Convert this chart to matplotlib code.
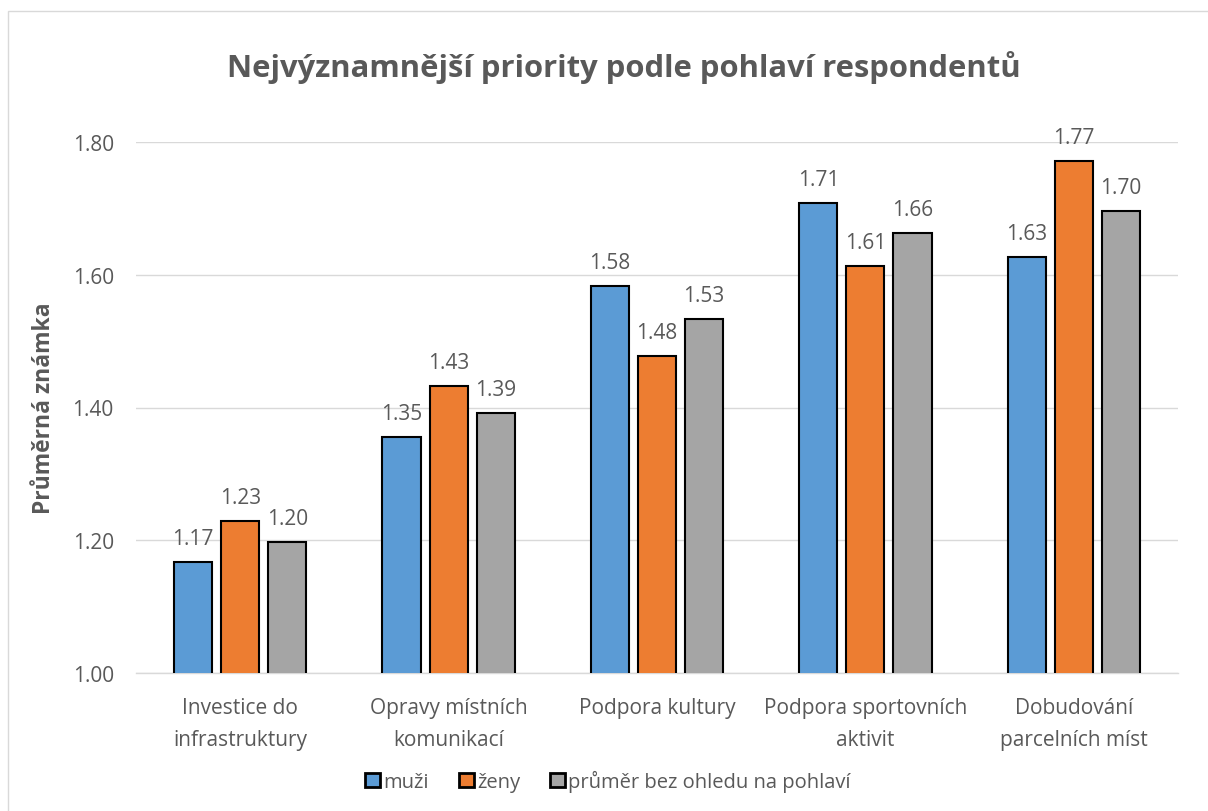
import matplotlib.pyplot as plt
from matplotlib.patches import Rectangle
import numpy as np

# --- Data ---
categories = ["Investice do\ninfrastruktury", "Opravy místních\nkomunikací",
              "Podpora kultury", "Podpora sportovních\naktivit",
              "Dobudování\nparcelních míst"]
muzi = [1.167, 1.355, 1.583, 1.708, 1.626]
zeny = [1.229, 1.432, 1.477, 1.613, 1.771]
prumer = [1.197, 1.391, 1.533, 1.663, 1.696]
series_names = ["muži", "ženy", "průměr bez ohledu na pohlaví"]
y_ticks = [1.00, 1.20, 1.40, 1.60, 1.80]

colors = ["#5B9BD5", "#ED7D31", "#A5A5A5"]
text_col = "#595959"
plt.rcParams['font.family'] = ['Open Sans', 'DejaVu Sans']

fig = plt.figure(figsize=(12.08, 8.12), dpi=100)
# chart border (cropped on right and bottom)
fig.patches.append(Rectangle((8 / 1208, -0.05), 1.1, 1 - 12 / 812 + 0.05,
                             transform=fig.transFigure, fill=False,
                             edgecolor="#D9D9D9", linewidth=1))

ax = fig.add_axes([136 / 1208, 1 - 674 / 812, (1178 - 136) / 1208, (674 - 143) / 812])
x = np.arange(len(categories))
width = 0.183
step = 0.226
for i, (vals, name) in enumerate(zip([muzi, zeny, prumer], series_names)):
    pos = x + (i - 1) * step
    ax.bar(pos, vals, width, bottom=0, color=colors[i], edgecolor="black",
           linewidth=1.5, label=name, zorder=3)
    for p, v in zip(pos, vals):
        ax.text(p, v + 0.02, f"{v:.2f}", ha="center", va="bottom",
                fontsize=15, color=text_col)

ax.set_ylim(1.0, 1.8)
ax.set_xlim(-0.5, len(categories) - 0.5)
ax.set_yticks(y_ticks)
ax.set_yticklabels([f"{t:.2f}" for t in y_ticks])
ax.set_xticks(x)
ax.set_xticklabels(categories, linespacing=1.7)
ax.tick_params(axis="y", length=0, labelsize=15, labelcolor=text_col, pad=16)
ax.tick_params(axis="x", length=0, labelsize=15, labelcolor=text_col, pad=17)
ax.grid(axis="y", color="#D9D9D9", linewidth=1, zorder=0)
for s in ["left", "right", "top"]:
    ax.spines[s].set_visible(False)
ax.spines["bottom"].set_color("#D9D9D9")
ax.spines["bottom"].set_linewidth(1)
ax.set_ylabel("Průměrná známka", fontsize=16.5, fontweight="bold", color=text_col, labelpad=12)

fig.text(624 / 1208, 1 - 68 / 812, "Nejvýznamnější priority podle pohlaví respondentů",
         ha="center", va="center", fontsize=22.3, fontweight="bold", color=text_col)

leg = fig.legend(loc="center", bbox_to_anchor=(608 / 1208, 1 - 782 / 812), ncol=3,
                 frameon=False, fontsize=14.5, handlelength=0.75, handleheight=0.75,
                 handletextpad=0.15, columnspacing=1.5)
for t in leg.get_texts():
    t.set_color(text_col)
for h in leg.legend_handles:
    h.set_linewidth(2)

fig.savefig("out.png", dpi=100)
